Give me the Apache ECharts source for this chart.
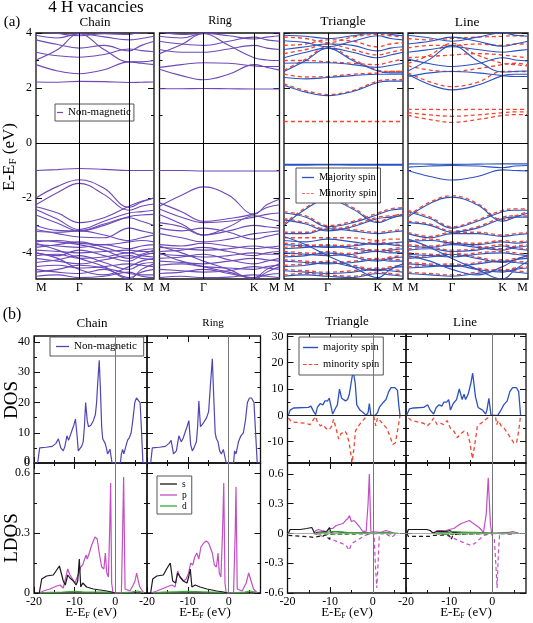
<!DOCTYPE html>
<html>
<head>
<meta charset="utf-8">
<script src="https://cdn.jsdelivr.net/npm/echarts@6/dist/echarts.min.js"></script>
<style>
html, body {margin: 0; padding: 0; background: #fff;}
#chart {width: 533px; height: 623px;}
</style>
</head>
<body>
<div id="chart"></div>
<script>
// k path M - Gamma - K - M (lengths 1/sqrt3, 2/3, 1/3)
const kPath = [0, 0.29, 0.577, 0.91, 1.244, 1.41, 1.577];
const kSym = [0, 0.577, 1.244, 1.577];
const kLabels = ['M', 'Γ', 'K', 'M'];

// band energies (eV) at kPath points
const chainBands = [
    [2.22, 2.21, 2.24, 2.23, 2.2, 2.21, 2.22],
    [2.85, 2.62, 2.52, 2.66, 2.95, 2.9, 2.85],
    [3.02, 3.4, 3.97, 3.4, 2.95, 2.95, 3.0],
    [3.3, 3.17, 3.12, 3.22, 3.42, 3.36, 3.32],
    [3.75, 3.58, 3.45, 3.55, 3.35, 3.55, 3.7],
    [3.92, 3.82, 3.97, 3.86, 3.75, 3.8, 3.88],
    [4.1, 3.98, 3.9, 3.97, 3.95, 4.05, 4.1],
    [-1.0, -0.97, -0.93, -0.96, -1.0, -1.0, -1.0],
    [-2.0, -1.58, -1.34, -1.65, -2.35, -2.15, -2.0],
    [-2.25, -1.8, -1.47, -1.88, -2.45, -2.3, -2.22],
    [-2.32, -2.55, -2.9, -2.72, -2.3, -2.12, -2.0],
    [-2.42, -2.78, -3.15, -2.85, -2.55, -2.5, -2.45],
    [-2.62, -2.92, -3.2, -3.0, -2.68, -2.62, -2.6],
    [-3.0, -3.18, -3.2, -2.95, -2.72, -2.85, -3.0],
    [-3.15, -3.3, -3.42, -3.45, -3.1, -3.2, -3.3],
    [-3.22, -3.25, -3.2, -3.35, -3.55, -3.45, -3.35],
    [-3.6, -3.55, -3.65, -3.7, -3.6, -3.55, -3.6],
    [-3.7, -3.75, -3.8, -3.7, -3.85, -3.75, -3.7],
    [-3.8, -3.7, -3.6, -3.8, -4.0, -3.9, -3.85],
    [-3.9, -3.95, -4.0, -3.95, -3.9, -3.95, -3.95],
    [-4.0, -4.1, -3.9, -4.1, -4.3, -4.1, -4.0],
    [-4.1, -4.05, -4.2, -4.15, -4.0, -4.1, -4.15],
    [-4.2, -4.3, -4.4, -4.25, -4.1, -4.2, -4.25],
    [-4.35, -4.25, -4.1, -4.35, -4.6, -4.4, -4.35],
    [-4.5, -4.45, -4.55, -4.5, -4.4, -4.45, -4.5],
    [-4.6, -4.7, -4.75, -4.6, -4.9, -4.7, -4.6],
    [-4.7, -4.6, -4.45, -4.55, -4.75, -4.8, -4.8],
    [-4.85, -4.8, -4.9, -4.85, -4.7, -4.85, -4.9],
    [-3.65, -3.9, -4.2, -4.5, -4.95, -4.6, -4.4],
    [-4.0, -4.2, -4.6, -4.8, -4.5, -4.3, -4.2],
    [-3.55, -3.6, -3.7, -3.9, -4.2, -4.05, -3.9]
];
const ringBands = [
    [1.97, 1.97, 1.98, 1.97, 1.96, 1.96, 1.96],
    [2.68, 2.45, 2.3, 2.5, 2.85, 2.75, 2.65],
    [2.75, 2.85, 2.92, 2.9, 2.8, 2.78, 2.78],
    [3.25, 3.58, 3.98, 3.55, 3.1, 3.02, 3.0],
    [3.4, 3.3, 3.3, 3.42, 3.55, 3.45, 3.4],
    [3.7, 3.6, 3.55, 3.7, 3.85, 3.75, 3.7],
    [3.88, 3.82, 3.98, 3.9, 3.78, 3.85, 3.9],
    [4.05, 3.95, 3.98, 4.05, 4.1, 4.05, 4.0],
    [-1.0, -1.0, -1.02, -1.02, -1.02, -1.02, -1.02],
    [-2.3, -1.9, -1.6, -1.9, -2.6, -2.25, -2.05],
    [-2.18, -2.5, -2.85, -2.75, -2.58, -2.35, -2.25],
    [-2.4, -2.7, -2.9, -2.85, -2.7, -2.6, -2.55],
    [-2.6, -2.95, -3.35, -3.05, -2.65, -2.75, -2.85],
    [-2.9, -3.05, -3.35, -3.2, -3.0, -3.05, -3.1],
    [-3.1, -3.2, -3.1, -3.25, -3.5, -3.4, -3.3],
    [-3.3, -3.45, -3.6, -3.5, -3.3, -3.25, -3.2],
    [-3.7, -3.75, -3.65, -3.75, -3.85, -3.8, -3.75],
    [-3.8, -3.85, -3.9, -3.85, -3.75, -3.8, -3.85],
    [-3.95, -3.9, -3.8, -3.95, -4.1, -4.0, -3.95],
    [-4.05, -4.1, -4.15, -4.1, -4.0, -4.05, -4.05],
    [-4.2, -4.15, -4.05, -4.25, -4.4, -4.3, -4.2],
    [-4.3, -4.35, -4.4, -4.3, -4.2, -4.25, -4.3],
    [-4.45, -4.4, -4.5, -4.55, -4.6, -4.5, -4.45],
    [-4.6, -4.65, -4.7, -4.65, -4.5, -4.55, -4.6],
    [-4.75, -4.7, -4.6, -4.75, -4.9, -4.8, -4.75],
    [-4.9, -4.85, -4.9, -4.88, -4.8, -4.85, -4.9],
    [-3.75, -4.0, -4.3, -4.6, -4.95, -4.7, -4.5],
    [-4.0, -4.3, -4.5, -4.7, -4.9, -4.6, -4.4]
];
const triMajBands = [
    [2.1, 1.85, 1.72, 1.87, 2.2, 2.25, 2.25],
    [2.38, 2.33, 2.38, 2.45, 2.5, 2.5, 2.5],
    [2.6, 3.0, 3.45, 3.0, 2.62, 2.55, 2.55],
    [2.9, 2.92, 2.92, 2.85, 2.75, 2.82, 2.9],
    [3.1, 3.3, 3.45, 3.3, 3.1, 3.2, 3.3],
    [3.4, 3.5, 3.6, 3.55, 3.35, 3.45, 3.5],
    [3.72, 3.65, 3.5, 3.7, 3.9, 3.8, 3.75],
    [3.92, 3.88, 3.8, 3.9, 4.02, 3.95, 3.9],
    [-0.78, -0.78, -0.78, -0.78, -0.78, -0.78, -0.78],
    [-0.81, -0.81, -0.8, -0.81, -0.81, -0.81, -0.81],
    [-3.0, -2.4, -2.05, -2.4, -2.9, -2.75, -2.6],
    [-2.55, -2.7, -3.05, -2.9, -2.6, -2.45, -2.4],
    [-2.8, -2.95, -3.2, -3.05, -2.75, -2.7, -2.65],
    [-3.3, -3.3, -3.12, -3.2, -3.3, -3.25, -3.2],
    [-3.55, -3.6, -3.5, -3.6, -3.7, -3.65, -3.6],
    [-3.7, -3.75, -3.8, -3.75, -3.65, -3.7, -3.75],
    [-3.85, -3.8, -3.75, -3.85, -3.95, -3.9, -3.85],
    [-4.0, -4.05, -4.1, -4.05, -3.95, -4.0, -4.0],
    [-4.15, -4.1, -4.0, -4.15, -4.3, -4.2, -4.15],
    [-4.3, -4.35, -4.4, -4.35, -4.25, -4.3, -4.3],
    [-4.5, -4.45, -4.35, -4.5, -4.65, -4.55, -4.5],
    [-4.65, -4.7, -4.75, -4.7, -4.6, -4.65, -4.7],
    [-4.85, -4.8, -4.85, -4.9, -4.75, -4.8, -4.85],
    [-3.4, -3.7, -4.1, -4.5, -4.9, -4.6, -4.4]
];
const triMinBands = [
    [0.78, 0.78, 0.78, 0.78, 0.78, 0.78, 0.78],
    [2.15, 1.9, 1.76, 1.9, 2.25, 2.3, 2.3],
    [2.5, 2.4, 2.42, 2.5, 2.55, 2.6, 2.6],
    [2.65, 3.05, 3.5, 3.05, 2.65, 2.6, 2.6],
    [3.0, 3.0, 2.95, 2.9, 2.85, 2.95, 3.05],
    [3.25, 3.4, 3.6, 3.4, 3.2, 3.3, 3.4],
    [3.55, 3.6, 3.75, 3.7, 3.5, 3.6, 3.65],
    [3.85, 3.8, 3.65, 3.85, 3.95, 3.9, 3.85],
    [-2.95, -2.35, -2.0, -2.35, -2.85, -2.7, -2.55],
    [-2.5, -2.65, -3.0, -2.85, -2.55, -2.4, -2.35],
    [-2.75, -2.9, -3.15, -3.0, -2.7, -2.65, -2.6],
    [-3.45, -3.45, -3.45, -3.45, -3.55, -3.5, -3.5],
    [-3.25, -3.25, -3.08, -3.15, -3.25, -3.2, -3.15],
    [-3.65, -3.7, -3.75, -3.7, -3.6, -3.65, -3.7],
    [-3.8, -3.75, -3.7, -3.8, -3.9, -3.85, -3.8],
    [-3.95, -4.0, -4.05, -4.0, -3.9, -3.95, -3.95],
    [-4.1, -4.05, -3.95, -4.1, -4.25, -4.15, -4.1],
    [-4.25, -4.3, -4.35, -4.3, -4.2, -4.25, -4.25],
    [-4.45, -4.4, -4.3, -4.45, -4.6, -4.5, -4.45],
    [-4.6, -4.65, -4.7, -4.65, -4.55, -4.6, -4.65],
    [-4.8, -4.75, -4.8, -4.85, -4.7, -4.75, -4.8]
];
const lineMajBands = [
    [2.5, 2.12, 1.93, 2.1, 2.45, 2.5, 2.5],
    [2.42, 2.55, 2.6, 2.55, 2.45, 2.42, 2.42],
    [2.62, 3.05, 3.55, 3.0, 2.58, 2.6, 2.62],
    [3.05, 2.88, 2.78, 2.88, 3.1, 3.02, 2.98],
    [3.3, 3.4, 3.5, 3.4, 3.3, 3.35, 3.4],
    [3.6, 3.7, 3.85, 3.7, 3.52, 3.6, 3.7],
    [3.92, 3.82, 3.7, 3.85, 4.0, 3.92, 3.88],
    [-0.76, -0.77, -0.78, -0.77, -0.76, -0.76, -0.76],
    [-0.88, -0.84, -0.82, -0.84, -0.9, -0.84, -0.82],
    [-1.0, -1.22, -1.35, -1.22, -0.98, -1.0, -1.02],
    [-2.7, -2.2, -1.97, -2.25, -2.85, -2.7, -2.55],
    [-2.5, -2.75, -3.1, -2.85, -2.5, -2.45, -2.45],
    [-2.9, -3.0, -3.25, -3.1, -2.75, -2.7, -2.7],
    [-3.3, -3.45, -3.3, -3.3, -3.4, -3.35, -3.3],
    [-3.6, -3.55, -3.65, -3.7, -3.6, -3.65, -3.6],
    [-3.75, -3.8, -3.7, -3.8, -3.9, -3.8, -3.75],
    [-3.9, -3.85, -3.95, -3.9, -3.75, -3.85, -3.9],
    [-4.05, -4.1, -4.15, -4.05, -4.0, -4.05, -4.1],
    [-4.2, -4.15, -4.05, -4.2, -4.35, -4.25, -4.2],
    [-4.4, -4.45, -4.5, -4.4, -4.3, -4.35, -4.4],
    [-4.55, -4.5, -4.45, -4.6, -4.7, -4.6, -4.55],
    [-4.75, -4.8, -4.85, -4.75, -4.65, -4.7, -4.75],
    [-3.5, -3.8, -4.2, -4.6, -4.95, -4.6, -4.3],
    [-4.1, -4.3, -4.6, -4.8, -4.5, -4.25, -4.1]
];
const lineMinBands = [
    [1.22, 1.22, 1.21, 1.22, 1.22, 1.22, 1.22],
    [1.1, 1.02, 0.97, 1.02, 1.1, 1.13, 1.13],
    [1.0, 0.85, 0.75, 0.85, 1.0, 1.03, 1.03],
    [2.55, 2.22, 2.05, 2.2, 2.6, 2.6, 2.6],
    [2.8, 2.65, 2.6, 2.7, 2.85, 2.9, 2.85],
    [2.9, 3.2, 3.62, 3.2, 2.9, 2.85, 2.8],
    [3.1, 3.15, 3.2, 3.25, 3.2, 3.15, 3.1],
    [3.45, 3.55, 3.55, 3.6, 3.55, 3.6, 3.6],
    [3.8, 3.75, 3.8, 3.85, 3.88, 3.9, 3.9],
    [-2.65, -2.15, -1.92, -2.2, -2.8, -2.65, -2.5],
    [-2.45, -2.7, -3.05, -2.8, -2.45, -2.4, -2.4],
    [-2.85, -2.95, -3.2, -3.05, -2.7, -2.65, -2.65],
    [-3.25, -3.4, -3.25, -3.25, -3.35, -3.3, -3.25],
    [-3.55, -3.5, -3.6, -3.65, -3.55, -3.6, -3.55],
    [-3.7, -3.75, -3.65, -3.75, -3.85, -3.75, -3.7],
    [-3.85, -3.8, -3.9, -3.85, -3.7, -3.8, -3.85],
    [-4.0, -4.05, -4.1, -4.0, -3.95, -4.0, -4.05],
    [-4.15, -4.1, -4.0, -4.15, -4.3, -4.2, -4.15],
    [-4.35, -4.4, -4.45, -4.35, -4.25, -4.3, -4.35],
    [-4.5, -4.45, -4.4, -4.55, -4.65, -4.55, -4.5],
    [-4.7, -4.75, -4.8, -4.7, -4.6, -4.65, -4.7]
];

// total DOS, [E - EF (eV), states]
const chainDos = [[-20,0],[-19.1,0],[-18.6,5],[-17,5.2],[-15.5,5.5],[-14.6,6.5],[-14.0,8],[-13.4,5],[-12.8,4],[-12.4,5.5],[-11.9,9],[-11.5,7.5],[-11.1,7],[-10.6,11],[-10.2,12.5],[-9.8,14.5],[-9.4,9],[-9.1,4],[-8.7,3.5],[-8.3,5.5],[-7.9,7],[-7.6,12],[-7.3,20],[-6.9,14],[-6.6,12],[-6.0,12.5],[-5.4,14],[-4.9,16],[-4.6,20],[-4.3,27],[-3.95,34],[-3.65,24],[-3.35,12],[-3.1,8],[-2.8,8],[-2.5,6.5],[-2.2,5],[-1.9,3],[-1.6,3.5],[-1.3,4.5],[-1.0,4],[-0.8,0],[1.25,0],[1.5,3],[1.8,4.5],[2.1,3],[2.5,5],[3.0,7.5],[3.5,8.5],[3.9,10],[4.3,14],[4.8,20],[5.2,21.5],[5.6,21],[6.1,20],[6.4,12],[6.8,0],[7.8,0]];
const ringDos = [[-20,0],[-19.1,0],[-18.7,5],[-17,5.2],[-15.5,5.5],[-14.6,6.5],[-14.1,7.5],[-13.5,3],[-12.8,4],[-12.2,9],[-11.6,7],[-11.2,8],[-10.7,10],[-10.2,12],[-9.75,14],[-9.3,6],[-8.9,4],[-8.5,5],[-7.9,7],[-7.6,12],[-7.3,20.5],[-6.9,12],[-6.3,13],[-5.4,15],[-4.9,17],[-4.5,25],[-4.0,34.5],[-3.6,20],[-3.3,10],[-3.0,8],[-2.6,7],[-2.2,4],[-1.8,3],[-1.3,4.5],[-0.9,4],[-0.6,0],[1.2,0],[1.45,4],[1.8,3],[2.4,7],[3.0,9],[3.6,10],[4.1,14],[4.6,20],[5.1,21.5],[5.6,21.5],[6.2,20],[6.6,10],[7.0,0],[7.8,0]];
const triDosUp = [[-19.8,0],[-19.4,2],[-18.6,2.8],[-15.1,3],[-14.5,3.5],[-13.9,1.5],[-13.4,0.3],[-13.0,3],[-12.3,4.5],[-11.7,4],[-11.2,5.5],[-10.6,5.5],[-10.2,6.5],[-9.8,6.5],[-9.4,0.5],[-8.8,2.5],[-8.3,4],[-7.8,10],[-7.3,6.5],[-6.9,7],[-6.4,5.5],[-5.9,6],[-5.5,8],[-5.1,12],[-4.6,17],[-4.1,12],[-3.75,4],[-3.0,2],[-2.2,1],[-1.55,0],[-1.1,1],[-0.8,4.5],[-0.45,0],[0.55,0],[1.1,1],[1.55,3],[2.5,5],[3.1,6],[3.75,9],[4.3,10.5],[5.2,10.5],[5.8,9.5],[6.1,4],[6.4,0]];
const triDosDn = [[-19.8,-1],[-19.0,-2.5],[-17.8,-2.7],[-15.9,-3],[-14.7,-3.5],[-14.1,-2],[-13.4,-0.5],[-13.0,-2.5],[-12.3,-4],[-11.7,-3.5],[-11.2,-4.5],[-10.6,-5.5],[-10.0,-5],[-9.6,-4],[-9.2,-1.5],[-8.6,-5],[-8.0,-9],[-7.5,-7],[-7.0,-6.5],[-6.5,-6],[-6.1,-7],[-5.6,-10],[-5.2,-14],[-4.85,-18],[-4.45,-13],[-4.05,-6],[-3.6,-4.5],[-2.6,-2.5],[-1.8,-1],[-1.25,0],[0.2,0],[0.4,-0.5],[0.7,-4],[1.1,-1],[1.7,-2],[2.5,-3.5],[3.3,-5],[4.05,-8],[4.7,-11],[5.3,-10.5],[5.8,-6],[6.4,0]];
const lineDosUp = [[-19.85,0],[-19.2,2.5],[-18.3,2.8],[-15.9,3],[-15.0,4],[-14.4,2],[-13.6,0.5],[-13.0,3],[-12.3,4],[-11.7,3.5],[-11.25,5],[-10.6,5],[-10.1,6],[-9.7,2],[-9.05,4.5],[-8.3,6],[-7.65,10],[-7.0,6],[-6.55,8],[-6.2,6],[-5.6,8],[-5.0,12],[-4.55,16],[-3.9,7],[-3.3,3],[-2.25,2],[-1.55,0.5],[-1.25,2],[-0.8,6.5],[-0.3,0],[1.25,0],[2.0,2],[2.65,4],[3.45,5.5],[4.05,9],[4.7,10.5],[5.6,10.5],[6.1,9],[6.55,0]];
const lineDosDn = [[-19.45,-1],[-18.65,-2],[-15.95,-3],[-15.15,-4],[-14.4,-3],[-13.6,-1],[-12.8,-3.5],[-12.0,-3],[-11.25,-3.5],[-10.85,-4],[-10.45,-2],[-9.7,-5],[-8.9,-6],[-8.1,-8.5],[-7.35,-7],[-6.55,-6],[-5.8,-6.5],[-5.25,-10],[-4.6,-16.5],[-4.15,-12],[-3.45,-4],[-2.25,-2.5],[-1.1,-1],[-0.3,0],[0.7,0],[1.0,-3.5],[1.4,-2],[2.05,-4],[2.8,-5],[3.6,-7],[4.4,-9],[5.0,-10.5],[5.6,-10.5],[6.1,-6],[6.55,0]];

// orbital resolved LDOS
const chainS = [[-18.7,0],[-18.1,0.07],[-16.9,0.085],[-15.25,0.09],[-14.25,0.12],[-13.75,0.135],[-12.8,0.06],[-12.3,0.04],[-11.7,0.09],[-11.15,0.075],[-10.3,0.06],[-9.65,0.04],[-9.25,0.06],[-8.85,0.17],[-8.5,0.03],[-8.0,0.05],[-7.05,0.03],[-5.4,0.02],[-3.75,0.015],[-2.1,0.01],[-0.9,0.005],[-0.1,0]];
const chainP = [[-18.7,0],[-17.7,0.01],[-16.1,0.02],[-14.4,0.035],[-13.6,0.04],[-12.8,0.025],[-11.7,0.12],[-11.15,0.09],[-10.5,0.07],[-9.9,0.05],[-9.35,0.08],[-8.95,0.1],[-8.5,0.13],[-8.0,0.14],[-7.7,0.16],[-7.2,0.19],[-6.9,0.17],[-6.4,0.2],[-5.8,0.24],[-5.0,0.28],[-4.45,0.27],[-3.95,0.2],[-3.35,0.13],[-2.8,0.12],[-2.45,0.2],[-2.1,0.1],[-1.7,0.08],[-1.4,0.3],[-1.15,0.55],[-0.9,0.05],[-0.55,0],[1.5,0],[1.8,0.3],[2.05,0.58],[2.4,0.02],[3.6,0.01],[4.4,0.04],[4.85,0.06],[5.25,0.1],[5.65,0.06],[6.05,0.03],[6.7,0.01],[7.05,0]];
const chainD = [[-19,0],[-16,0.003],[-13,0.005],[-10,0.008],[-8,0.006],[-5,0.005],[-3,0.004],[-1,0.003],[0,0],[2,0.002],[4,0.005],[5.5,0.01],[7,0.002]];
const ringS = [[-19.1,0],[-18.6,0.07],[-17.6,0.085],[-16.0,0.09],[-15.2,0.12],[-14.3,0.15],[-13.7,0.06],[-13.0,0.05],[-12.5,0.1],[-11.9,0.08],[-11.1,0.06],[-10.2,0.05],[-9.8,0.08],[-9.4,0.12],[-9.0,0.03],[-8.2,0.04],[-7.0,0.03],[-5.3,0.02],[-2.9,0.01],[-1.2,0.005],[-0.4,0]];
const ringP = [[-19.1,0],[-17.6,0.01],[-15.2,0.03],[-13.9,0.04],[-13.1,0.03],[-12.5,0.11],[-11.9,0.08],[-11.1,0.06],[-10.4,0.07],[-9.8,0.1],[-9.3,0.15],[-8.8,0.14],[-8.3,0.18],[-7.8,0.2],[-7.3,0.17],[-6.8,0.23],[-6.1,0.25],[-5.5,0.26],[-4.9,0.25],[-4.5,0.26],[-4.0,0.2],[-3.5,0.14],[-3.0,0.13],[-2.6,0.2],[-2.3,0.1],[-1.9,0.08],[-1.5,0.3],[-1.2,0.55],[-0.9,0.05],[-0.6,0],[1.2,0],[1.6,0.3],[1.8,0.53],[2.1,0.02],[3.3,0.01],[4.3,0.05],[4.9,0.1],[5.5,0.06],[6.1,0.02],[7.0,0]];
const ringD = [[-19,0],[-16,0.004],[-13,0.006],[-10,0.008],[-8,0.007],[-5,0.005],[-2,0.003],[0,0],[2,0.002],[4,0.004],[5.3,0.01],[7,0.002]];
const triSUp = [[-19.8,0],[-19.4,0.04],[-17.0,0.04],[-15.5,0.05],[-14.3,0.06],[-13.9,0.05],[-13.6,0],[-13.1,0.01],[-10.8,0.02],[-10.4,0.03],[-10.15,0.06],[-9.85,0.01],[-8.8,0.02],[-6.9,0.01],[-2.2,0.005],[0.2,0]];
const triSDn = [[-19.8,-0.02],[-19.4,-0.03],[-14.7,-0.035],[-13.9,-0.04],[-13.6,-0.02],[-10.8,-0.015],[-10.15,-0.06],[-9.85,-0.01],[-6.0,-0.005],[0.2,0]];
const triPUp = [[-13.9,0],[-13.3,0.03],[-12.7,0.04],[-11.95,0.03],[-10.8,0.02],[-10.15,0.05],[-9.4,0.05],[-8.6,0.08],[-7.8,0.09],[-7.0,0.1],[-6.4,0.13],[-5.85,0.15],[-5.45,0.18],[-5.0,0.12],[-4.4,0.13],[-3.75,0.1],[-3.15,0.07],[-2.35,0.02],[-1.55,0.02],[-1.1,0.3],[-0.8,0.6],[-0.45,0.02],[0,0],[1.7,0.01],[3.1,0.03],[3.9,0.02],[4.85,0.005]];
const triPDn = [[-13.9,0],[-12.35,-0.02],[-10.8,-0.04],[-9.6,-0.06],[-8.45,-0.08],[-7.25,-0.1],[-6.25,-0.12],[-5.55,-0.17],[-4.9,-0.1],[-4.15,-0.08],[-2.95,-0.05],[-1.8,-0.02],[-0.8,-0.005],[0.3,0],[0.6,-0.3],[0.95,-0.55],[1.25,-0.3],[1.55,0],[3.3,-0.01],[4.45,-0.04],[5.2,-0.01],[5.6,0]];
const triDUp = [[-13,0.005],[-11,0.01],[-9.5,0.02],[-8,0.015],[-6,0.01],[-3,0.008],[0,0],[3,0.01],[6,0]];
const triDDn = [[-13,-0.005],[-9.5,-0.01],[-6,-0.008],[0,0],[5,-0.005]];
const lineSUp = [[-19.8,0],[-19.45,0.04],[-15.15,0.04],[-14.4,0.03],[-13.75,0.005],[-12.8,0.02],[-10.45,0.02],[-9.85,0.03],[-9.55,0.05],[-9.15,0.01],[-7.35,0.01],[-2.65,0.005],[0,0]];
const lineSDn = [[-19.8,0],[-19.45,-0.03],[-14.4,-0.03],[-13.6,-0.02],[-10.1,-0.015],[-9.55,-0.06],[-9.05,-0.01],[-5.8,-0.005],[0,0]];
const linePUp = [[-13.6,0.005],[-12.8,0.03],[-11.65,0.03],[-10.85,0.025],[-10.1,0.04],[-8.9,0.05],[-7.95,0.08],[-7.2,0.1],[-6.55,0.11],[-5.95,0.12],[-5.3,0.13],[-4.7,0.11],[-4.05,0.09],[-3.05,0.06],[-2.05,0.01],[-1.4,0.2],[-0.95,0.56],[-0.45,0.1],[-0.15,0],[3.6,0.01],[4.75,0.02],[5.55,0.01],[6.3,0]];
const linePDn = [[-12.0,0],[-10.45,-0.02],[-8.9,-0.05],[-7.35,-0.08],[-6.15,-0.1],[-5.0,-0.12],[-4.05,-0.1],[-3.05,-0.06],[-1.9,-0.02],[-0.3,0],[0.45,-0.05],[0.8,-0.3],[1.1,-0.55],[1.4,-0.2],[1.7,0],[4.4,-0.01],[5.15,0]];
const lineDUp = [[-13,0.005],[-10,0.01],[-9,0.02],[-7,0.01],[-4,0.01],[0,0],[4,0.005],[6,0]];
const lineDDn = [[-13,-0.005],[-9.5,-0.01],[-6,-0.006],[0,0],[5,-0.004]];

const FONT = '"Liberation Serif", "DejaVu Serif", serif';
const PURPLE = '#6e49b8', NMDOS = '#4f45b3', BLUE = '#2c52bf', RED = '#f2452f';
const MAGENTA = '#c24fc4', GREEN = '#38a832', BLACK = '#1a1a1a';
const DASH_ICON = 'path://M0,0H4V1H0Z M6,0H10V1H6Z M12,0H16V1H12Z';

const grids = [], xAxes = [], yAxes = [], series = [];
const labelStyle = {fontFamily: FONT, fontSize: 12, color: '#000', showMinLabel: true, showMaxLabel: true};

function tick(vals, len) {
    if (!vals || !vals.length) return {show: false};
    return {show: true, inside: true, length: len, customValues: vals, lineStyle: {color: '#111', width: 1}};
}

function panel(box, xr, yr, t) {
    const g = grids.length;
    grids.push(Object.assign({show: true, borderColor: '#111', borderWidth: 1.3, backgroundColor: 'rgba(0,0,0,0)'}, box));
    const ax = (min, max, pos) => ({type: 'value', gridIndex: g, min, max, position: pos,
        splitLine: {show: false}, axisLine: {show: false, onZero: false}});
    const xi = xAxes.length, yi = yAxes.length;
    xAxes.push(Object.assign(ax(xr[0], xr[1], 'bottom'), {axisTick: tick(t.xMaj, 6),
        axisLabel: t.xLab ? Object.assign({customValues: t.xLab, margin: 3}, labelStyle, t.xLabOpt || {}) : {show: false}}));
    xAxes.push(Object.assign(ax(xr[0], xr[1], 'top'), {axisTick: tick(t.xMaj, 6), axisLabel: {show: false}}));
    xAxes.push(Object.assign(ax(xr[0], xr[1], 'bottom'), {axisTick: tick(t.xMin, 3), axisLabel: {show: false}}));
    xAxes.push(Object.assign(ax(xr[0], xr[1], 'top'), {axisTick: tick(t.xMin, 3), axisLabel: {show: false}}));
    yAxes.push(Object.assign(ax(yr[0], yr[1], 'left'), {axisTick: tick(t.yMaj, 6),
        axisLabel: t.yLab ? Object.assign({customValues: t.yLab, margin: 4}, labelStyle) : {show: false}}));
    yAxes.push(Object.assign(ax(yr[0], yr[1], 'right'), {axisTick: tick(t.yMaj, 6), axisLabel: {show: false}}));
    yAxes.push(Object.assign(ax(yr[0], yr[1], 'left'), {axisTick: tick(t.yMin, 3), axisLabel: {show: false}}));
    yAxes.push(Object.assign(ax(yr[0], yr[1], 'right'), {axisTick: tick(t.yMin, 3), axisLabel: {show: false}}));
    return {xi, yi};
}

function addLine(p, data, color, opt) {
    opt = opt || {};
    series.push({
        type: 'line', name: opt.name, xAxisIndex: p.xi, yAxisIndex: p.yi, data,
        smooth: opt.smooth || false, symbol: 'none', silent: true,
        lineStyle: {color, width: opt.width || 1, type: opt.dashed ? [4, 3] : 'solid'},
        itemStyle: {color}, z: opt.z || 2
    });
}

function refLines(p, list) {
    series.push({
        type: 'line', xAxisIndex: p.xi, yAxisIndex: p.yi, data: [], silent: true,
        markLine: {symbol: 'none', silent: true, animation: false, label: {show: false},
            lineStyle: {color: '#000', width: 1, type: 'solid'}, data: list}
    });
}

// ---------- (a) band structures ----------
const kFmt = v => {
    let best = 0;
    kSym.forEach((k, i) => { if (Math.abs(k - v) < Math.abs(kSym[best] - v)) best = i; });
    return kLabels[best];
};
const bandBoxes = [
    {left: 36, top: 33, width: 118, height: 246},
    {left: 159.5, top: 33, width: 120, height: 246},
    {left: 284, top: 33, width: 119, height: 246},
    {left: 408, top: 33, width: 120, height: 246}
];
const bandSets = [
    [{rows: chainBands, color: PURPLE, name: 'Non-magnetic'}],
    [{rows: ringBands, color: PURPLE, name: 'Non-magnetic'}],
    [{rows: triMinBands, color: RED, dashed: true, name: 'Minority spin'}, {rows: triMajBands, color: BLUE, name: 'Majority spin'}],
    [{rows: lineMinBands, color: RED, dashed: true, name: 'Minority spin'}, {rows: lineMajBands, color: BLUE, name: 'Majority spin'}]
];
bandBoxes.forEach((box, i) => {
    const p = panel(box, [0, 1.577], [-4.95, 4], {
        xLab: kSym, xLabOpt: {formatter: kFmt, alignMinLabel: 'left', alignMaxLabel: 'right'},
        yMaj: [-4, -2, 0, 2, 4], yMin: [-3, -1, 1, 3],
        yLab: i === 0 ? [-4, -2, 0, 2, 4] : null
    });
    refLines(p, [{xAxis: 0.577}, {xAxis: 1.244}, {yAxis: 0}]);
    bandSets[i].forEach(set => {
        set.rows.forEach(row => {
            addLine(p, kPath.map((k, j) => [k, row[j]]), set.color,
                {name: set.name, smooth: 0.4, dashed: set.dashed, width: set.dashed ? 1.3 : 1.1});
        });
    });
});

// ---------- (b) DOS and LDOS ----------
const dosX = [-20, 7.8];
const dosTicks = {xMaj: [-20, -10, 0], xMin: [-15, -5, 5]};
const leftDos = [{left: 34, top: 336, width: 113, height: 127}, {left: 147, top: 336, width: 113.5, height: 127}];
const rightDos = [{left: 287.5, top: 334, width: 118.5, height: 129}, {left: 406, top: 334, width: 120, height: 129}];
const leftLdos = [{left: 34, top: 463, width: 113, height: 130}, {left: 147, top: 463, width: 113.5, height: 130}];
const rightLdos = [{left: 287.5, top: 463, width: 118.5, height: 130}, {left: 406, top: 463, width: 120, height: 130}];

[chainDos, ringDos].forEach((d, i) => {
    const p = panel(leftDos[i], dosX, [0, 42], Object.assign({
        yMaj: [0, 10, 20, 30, 40], yMin: [5, 15, 25, 35], yLab: i === 0 ? [0, 10, 20, 30, 40] : null}, dosTicks));
    refLines(p, [{xAxis: 0, lineStyle: {color: '#777', width: 1}}]);
    addLine(p, d, NMDOS, {name: 'Non-magnetic ', width: 1.2});
});
[[triDosUp, triDosDn], [lineDosUp, lineDosDn]].forEach((d, i) => {
    const p = panel(rightDos[i], dosX, [-18.1, 30.9], Object.assign({
        yMaj: [-10, 0, 10, 20, 30], yMin: [-15, -5, 5, 15, 25], yLab: i === 0 ? [-10, 0, 10, 20, 30] : null}, dosTicks));
    refLines(p, [{xAxis: 0, lineStyle: {color: '#777', width: 1}}, {yAxis: 0, lineStyle: {color: '#222', width: 1}}]);
    addLine(p, d[0], BLUE, {name: 'majority spin', width: 1.3});
    addLine(p, d[1], RED, {name: 'minority spin', width: 1.3, dashed: true});
});
[[chainS, chainP, chainD], [ringS, ringP, ringD]].forEach((d, i) => {
    const p = panel(leftLdos[i], dosX, [0, 0.65], Object.assign({
        xLab: [-20, -10, 0], yMaj: [0, 0.3, 0.6], yMin: [0.15, 0.45], yLab: i === 0 ? [0, 0.3, 0.6] : null}, dosTicks));
    refLines(p, [{xAxis: 0, lineStyle: {color: '#777', width: 1}}]);
    addLine(p, d[2], GREEN, {name: 'd', width: 1.2});
    addLine(p, d[1], MAGENTA, {name: 'p', width: 1.2});
    addLine(p, d[0], BLACK, {name: 's', width: 1.2, z: 3});
});
[[triSUp, triSDn, triPUp, triPDn, triDUp, triDDn], [lineSUp, lineSDn, linePUp, linePDn, lineDUp, lineDDn]].forEach((d, i) => {
    const p = panel(rightLdos[i], dosX, [-0.6, 0.71], Object.assign({
        xLab: [-20, -10, 0], yMaj: [-0.6, -0.3, 0, 0.3, 0.6], yMin: [-0.45, -0.15, 0.15, 0.45],
        yLab: i === 0 ? [-0.6, -0.3, 0, 0.3, 0.6] : null}, dosTicks));
    refLines(p, [{xAxis: 0, lineStyle: {color: '#777', width: 1}}, {yAxis: 0, lineStyle: {color: '#999', width: 0.8}}]);
    addLine(p, d[2], MAGENTA, {width: 1.2});
    addLine(p, d[3], MAGENTA, {width: 1.2, dashed: true});
    addLine(p, d[0], BLACK, {width: 1.2});
    addLine(p, d[1], BLACK, {width: 1.2, dashed: true});
    addLine(p, d[4], GREEN, {width: 1.2});
    addLine(p, d[5], GREEN, {width: 1.2, dashed: true});
});

// ---------- text ----------
function txt(x, y, text, size, rot, align) {
    return {type: 'text', x, y, rotation: rot || 0, silent: true,
        style: {text, fontFamily: FONT, fontSize: size, fill: '#000', align: align || 'center', verticalAlign: 'middle'}};
}
function eTxt(x, y, size, rot) {
    const sub = Math.round(size * 0.65);
    return {type: 'text', x, y, rotation: rot || 0, silent: true,
        style: {text: '{a|E-E}{s|F}{a| (eV)}', fontFamily: FONT, fontSize: size, fill: '#000',
            align: 'center', verticalAlign: 'middle',
            rich: {
                a: {fontFamily: FONT, fontSize: size, lineHeight: size + 1, padding: [0, 0, 3, 0], verticalAlign: 'top'},
                s: {fontFamily: FONT, fontSize: sub, lineHeight: sub, verticalAlign: 'bottom'}
            }}};
}
const graphics = [
    txt(96, 8, '4 H vacancies', 17),
    txt(12, 22, '(a)', 15),
    txt(95, 23, 'Chain', 13),
    txt(220, 21, 'Ring', 12),
    txt(343, 21, 'Triangle', 13.5),
    txt(467, 22, 'Line', 13.5),
    txt(12, 315, '(b)', 16),
    txt(92, 324, 'Chain', 13),
    txt(213, 323, 'Ring', 11),
    txt(347, 322, 'Triangle', 13),
    txt(465, 323, 'Line', 13),
    txt(30, 461, '0', 12, 0, 'right'),
    txt(12, 400, 'DOS', 19, Math.PI / 2),
    txt(12, 538, 'LDOS', 19, Math.PI / 2),
    eTxt(10, 157, 17, Math.PI / 2),
    eTxt(91, 613, 13),
    eTxt(205, 613, 13),
    eTxt(347, 613, 13),
    eTxt(466, 613, 13)
];

const legendBase = {orient: 'vertical', selectedMode: false, borderColor: '#555', borderWidth: 1,
    backgroundColor: '#fff', borderRadius: 0, icon: 'rect'};
const item = (name, color, dashed) => Object.assign({name, itemStyle: {color}}, dashed ? {icon: DASH_ICON} : {});
const legends = [
    Object.assign({}, legendBase, {data: [item('Non-magnetic', PURPLE)], left: 55, top: 104, padding: [3, 3, 3, 2],
        itemWidth: 6, itemHeight: 1.2, textStyle: {fontFamily: FONT, fontSize: 11, color: '#000'}}),
    Object.assign({}, legendBase, {data: [item('Majority spin', BLUE), item('Minority spin', RED, true)],
        left: 296, top: 168, padding: [4, 4, 4, 6], itemGap: 5, itemWidth: 12, itemHeight: 1.3,
        textStyle: {fontFamily: FONT, fontSize: 10.5, color: '#000'}}),
    Object.assign({}, legendBase, {data: [item('Non-magnetic ', NMDOS)], left: 50, top: 337, padding: [4, 4, 4, 6],
        itemWidth: 13, itemHeight: 1.3, textStyle: {fontFamily: FONT, fontSize: 11, color: '#000'}}),
    Object.assign({}, legendBase, {data: [item('majority spin', BLUE), item('minority spin', RED, true)],
        left: 299, top: 337, padding: [5, 4, 5, 4], itemGap: 6, itemWidth: 15, itemHeight: 1.4,
        textStyle: {fontFamily: FONT, fontSize: 10.5, color: '#000'}}),
    Object.assign({}, legendBase, {data: [item('s', BLACK), item('p', MAGENTA), item('d', GREEN)], left: 157, top: 476,
        padding: [3, 5, 3, 3], itemGap: 1, itemWidth: 17, itemHeight: 1.3,
        textStyle: {fontFamily: FONT, fontSize: 9.5, color: '#000', lineHeight: 8}})
];

const chart = echarts.init(document.getElementById('chart'), null, {renderer: 'canvas'});
chart.setOption({
    animation: false,
    backgroundColor: '#fff',
    grid: grids,
    xAxis: xAxes,
    yAxis: yAxes,
    legend: legends,
    graphic: graphics,
    series
});
</script>
</body>
</html>
